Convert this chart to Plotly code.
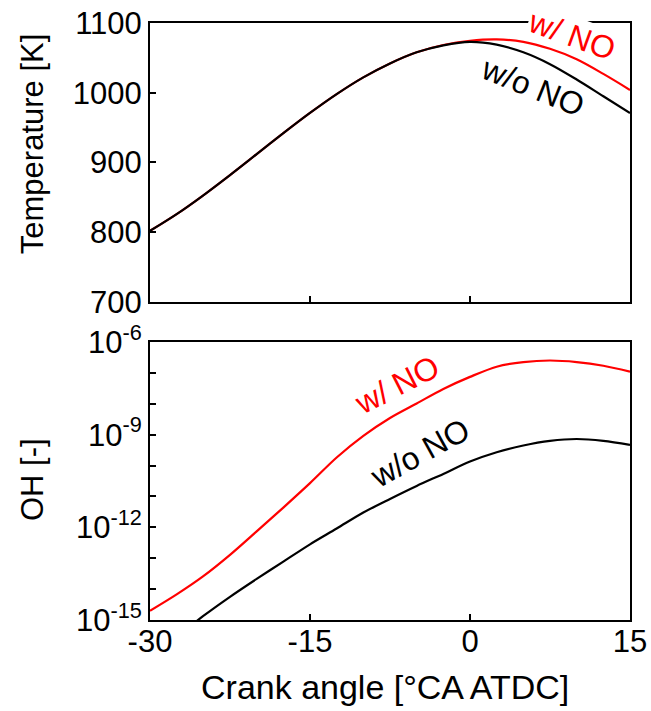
import plotly.graph_objects as go

# ---------------- data ----------------
crank_angle = [-30, -27.5, -25, -22.5, -20, -17.5, -15, -12.5, -10, -7.5, -5, -2.5,
               0, 2.5, 5, 7.5, 10, 12.5, 15]

temp_with_no = [802, 826, 853, 882, 912, 942, 971, 998, 1022, 1042, 1058, 1068.5,
                1074.5, 1076.5, 1073, 1063, 1048, 1027, 1004]
temp_without_no = [802, 826, 853, 882, 912, 942, 971, 998, 1022, 1042, 1058, 1068,
                   1073, 1069, 1058, 1041, 1019, 995, 971]

# OH mole fraction, log10 values
oh_log10_with_no = [-14.70, -14.17, -13.58, -12.89, -12.13, -11.36, -10.57, -9.74,
                    -9.04, -8.46, -7.99, -7.52, -7.13, -6.80, -6.65, -6.60, -6.65,
                    -6.77, -6.96]
oh_x_without_no = [-27.5, -25, -22.5, -20, -17.5, -15, -12.5, -10, -7.5, -5, -2.5,
                   0, 2.5, 5, 7.5, 10, 12.5, 15]
oh_log10_without_no = [-15.55, -14.87, -14.25, -13.67, -13.11, -12.55, -12.04, -11.52,
                       -11.08, -10.66, -10.27, -9.87, -9.57, -9.35, -9.20, -9.14,
                       -9.20, -9.33]

oh_with_no = [10 ** v for v in oh_log10_with_no]
oh_without_no = [10 ** v for v in oh_log10_without_no]

x_ticks = [-30, -15, 0, 15]
temp_ticks = [700, 800, 900, 1000, 1100]
oh_tick_exponents = list(range(-15, -5))
oh_label_exponents = [-15, -12, -9, -6]

# ---------------- figure ----------------
FONT = "Liberation Sans, Arial, sans-serif"
RED = "#ff0000"
BLACK = "#000000"
LW = 2.2
SPL = dict(shape="spline", smoothing=0.9)

fig = go.Figure()
fig.add_trace(go.Scatter(x=crank_angle, y=temp_with_no, mode="lines",
                         line=dict(color=RED, width=LW, **SPL),
                         xaxis="x", yaxis="y", showlegend=False))
fig.add_trace(go.Scatter(x=crank_angle, y=temp_without_no, mode="lines",
                         line=dict(color=BLACK, width=LW, **SPL),
                         xaxis="x", yaxis="y", showlegend=False))
fig.add_trace(go.Scatter(x=crank_angle, y=oh_with_no, mode="lines",
                         line=dict(color=RED, width=LW, **SPL),
                         xaxis="x2", yaxis="y2", showlegend=False))
fig.add_trace(go.Scatter(x=oh_x_without_no, y=oh_without_no, mode="lines",
                         line=dict(color=BLACK, width=LW, **SPL),
                         xaxis="x2", yaxis="y2", showlegend=False))

axis_common = dict(showline=True, mirror=True, linecolor=BLACK, linewidth=2,
                   ticks="inside", ticklen=6, tickwidth=2, tickcolor=BLACK,
                   showgrid=False, zeroline=False, automargin=False,
                   tickfont=dict(family=FONT, size=31, color=BLACK))

fig.update_layout(
    width=651, height=711,
    margin=dict(l=150, r=21, t=23, b=91),
    plot_bgcolor="white", paper_bgcolor="white",
    xaxis=dict(domain=[0, 1], anchor="y", range=[-30, 15], tickvals=x_ticks,
               showticklabels=False, **axis_common),
    yaxis=dict(domain=[0.5327, 1], anchor="x", range=[700, 1100], tickvals=temp_ticks,
               **axis_common),
    xaxis2=dict(domain=[0, 1], anchor="y2", range=[-30, 15], tickvals=x_ticks,
                ticktext=[str(v) for v in x_ticks], ticklabelstandoff=-7,
                **axis_common),
    yaxis2=dict(domain=[0, 0.4657], anchor="x2", type="log", range=[-15, -6],
                tickvals=[10 ** e for e in oh_tick_exponents],
                ticktext=[("10<sup>%d</sup>" % e) if e in oh_label_exponents else ""
                          for e in oh_tick_exponents],
                **axis_common),
)

annotations = [
    # axis titles
    dict(text="Temperature [K]", xref="paper", yref="paper", x=-0.2458, y=0.797,
         xanchor="center", yanchor="middle",
         textangle=-90, showarrow=False, font=dict(family=FONT, size=31, color=BLACK)),
    dict(text="OH [-]", xref="paper", yref="paper", x=-0.2458, y=0.2345,
         xanchor="center", yanchor="middle",
         textangle=-90, showarrow=False, font=dict(family=FONT, size=31, color=BLACK)),
    dict(text="Crank angle [°CA ATDC]", xref="paper", yref="paper", x=0.4906, y=-0.112,
         xanchor="center", yanchor="middle",
         showarrow=False, font=dict(family=FONT, size=34, color=BLACK)),
    # curve labels, top panel
    dict(text="w/ NO", xref="x", yref="y", x=9.53, y=1082.8, textangle=20,
         xanchor="center", yanchor="middle",
         showarrow=False, bgcolor="white", borderpad=0,
         font=dict(family=FONT, size=32, color=RED)),
    dict(text="w/o NO", xref="x", yref="y", x=5.94, y=1008.7, textangle=22,
         xanchor="center", yanchor="middle",
         showarrow=False, font=dict(family=FONT, size=32, color=BLACK)),
    # curve labels, bottom panel
    dict(text="w/ NO", xref="x2", yref="y2", x=-6.87, y=-7.39, textangle=-27,
         xanchor="center", yanchor="middle",
         showarrow=False, font=dict(family=FONT, size=32, color=RED)),
    dict(text="w/o NO", xref="x2", yref="y2", x=-4.69, y=-9.59, textangle=-29,
         xanchor="center", yanchor="middle",
         showarrow=False, font=dict(family=FONT, size=32, color=BLACK)),
]
fig.update_layout(annotations=annotations)

fig.write_html("out.html", config={"displayModeBar": False},
               post_script="document.body.style.margin='0';document.body.style.padding='0';")
